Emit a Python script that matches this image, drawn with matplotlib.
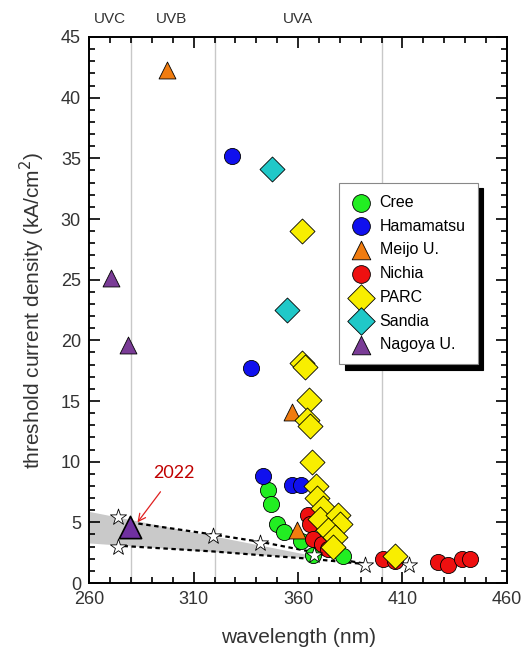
import matplotlib.pyplot as plt
from matplotlib.ticker import MultipleLocator

plt.rcParams['font.family'] = ['Liberation Sans', 'DejaVu Sans']

# data (wavelength nm, threshold kA/cm2)
cree_x = [345.8, 346.9, 350.1, 353.3, 361.3, 367.3, 381.7]
cree_y = [7.7, 6.5, 4.9, 4.2, 3.5, 2.3, 2.2]
hama_x = [328.4, 337.5, 343.1, 357.0, 361.3]
hama_y = [35.2, 17.7, 8.8, 8.1, 8.1]
meijo_x = [297.3, 357.1, 359.5]
meijo_y = [42.3, 14.1, 4.4]
nichia_x = [364.9, 365.7, 367.3, 371.3, 374.5, 400.5, 406.4, 427.1, 431.9, 438.3, 442.3]
nichia_y = [5.6, 4.9, 3.6, 3.2, 2.8, 2.0, 1.8, 1.7, 1.5, 2.0, 2.0]
parc_x = [361.8, 362.0, 363.3, 365.4, 364.2, 365.7, 366.5, 368.6, 369.0, 371.8,
          370.5, 379.3, 380.0, 374.5, 377.7, 376.9, 406.4]
parc_y = [29.0, 18.1, 17.8, 15.1, 13.4, 12.9, 10.0, 8.0, 7.0, 6.2,
          5.3, 5.6, 4.9, 4.4, 3.8, 3.0, 2.2]
sandia_x = [347.4, 354.6]
sandia_y = [34.1, 22.5]
nagoya_x = [270.5, 278.7]
nagoya_y = [25.1, 19.6]
nagoya22_x = [279.6]
nagoya22_y = [4.6]

star_x = [274.0, 274.0, 319.2, 341.8, 367.5, 392.0, 413.3]
star_y = [5.4, 3.0, 3.9, 3.3, 2.3, 1.5, 1.5]

upper_x = [283.5, 319.2, 341.8, 365.7, 383.3, 392.0]
upper_y = [4.9, 4.0, 3.4, 2.6, 1.85, 1.6]
lower_x = [276.4, 319.5, 341.8, 365.7, 389.7]
lower_y = [3.05, 2.6, 2.3, 2.0, 1.6]

band_x = [260, 366]
band_top = [5.9, 2.3]
band_bot = [3.3, 2.05]

region_lines = [280, 320, 400]
region_names = ['UVC', 'UVB', 'UVA']
region_pos = [270, 299.5, 360]

fig = plt.figure(figsize=(5.28, 6.57), dpi=100)
ax = fig.add_axes([0.169, 0.1126, 0.791, 0.8311])

for xv in region_lines:
    ax.axvline(xv, color='#c8c8c8', lw=1.0, zorder=0)

ax.fill_between(band_x, band_bot, band_top, color='#c9c9c9', lw=0, zorder=1)
ax.plot(upper_x, upper_y, color='black', ls=(0, (2, 1.6)), lw=1.6, zorder=2)
ax.plot(lower_x, lower_y, color='black', ls=(0, (2, 1.6)), lw=1.6, zorder=2)

ms = 135
kw = dict(edgecolors='black', linewidths=0.6, zorder=3)
ax.scatter(cree_x, cree_y, s=ms, marker='o', c='#22ee22', label='Cree', **kw)
ax.scatter(hama_x, hama_y, s=ms, marker='o', c='#1010ee', label='Hamamatsu', **kw)
ax.scatter(meijo_x, meijo_y, s=ms * 1.1, marker='^', c='#f07c10', label='Meijo U.', **kw)
ax.scatter(nichia_x, nichia_y, s=ms, marker='o', c='#ee1010', label='Nichia', **kw)
ax.scatter(parc_x, parc_y, s=ms * 1.2, marker='D', c='#f8ee00', label='PARC', **kw)
ax.scatter(sandia_x, sandia_y, s=ms * 1.2, marker='D', c='#20c8c8', label='Sandia', **kw)
ax.scatter(nagoya_x, nagoya_y, s=ms * 1.1, marker='^', c='#7a3c96', label='Nagoya U.', **kw)
ax.scatter(nagoya22_x, nagoya22_y, s=ms * 1.9, marker='^', c='#7030a0',
           edgecolors='black', linewidths=1.2, zorder=5)
ax.scatter(star_x, star_y, s=ms * 1.1, marker='*', c='white',
           edgecolors='black', linewidths=0.6, zorder=4)

ax.annotate('2022', xy=(283.1, 5.0), xytext=(300.8, 9.05),
            ha='center', va='center', color='#c00000', fontsize=13,
            family=['Lato', 'DejaVu Sans'],
            arrowprops=dict(arrowstyle='->', color='#e02020', lw=0.9,
                            shrinkA=7, shrinkB=0),
            zorder=6)

ax.set_xlim(260, 460)
ax.set_ylim(0, 45)
ax.xaxis.set_major_locator(MultipleLocator(50, offset=10))
ax.xaxis.set_minor_locator(MultipleLocator(10))
ax.yaxis.set_major_locator(MultipleLocator(5))
ax.yaxis.set_minor_locator(MultipleLocator(1))
ax.tick_params(which='both', direction='in', top=True, right=True,
               colors='black', labelcolor='#333333', labelsize=13, width=1.2)
ax.tick_params(which='major', length=8, pad=6)
ax.tick_params(which='minor', length=4)
for sp in ax.spines.values():
    sp.set_linewidth(1.4)

ax.set_xlabel('wavelength (nm)', fontsize=15, color='#333333', labelpad=14)
ax.set_ylabel('threshold current density (kA/cm$^2$)', fontsize=15,
              color='#333333', labelpad=10)

for name, xp in zip(region_names, region_pos):
    ax.text(xp, 1.02, name, transform=ax.get_xaxis_transform(),
            ha='center', va='bottom', fontsize=11, color='#333333')

leg = ax.legend(loc='upper left', bbox_to_anchor=(0.598, 0.733), fontsize=11.5,
                frameon=True, fancybox=False, edgecolor='#888888',
                borderpad=0.75, labelspacing=0.55, handletextpad=0.6,
                handlelength=1.2, scatterpoints=1, borderaxespad=0,
                markerscale=1.1,
                shadow={'color': 'black', 'alpha': 1, 'ox': 4, 'oy': -4})
leg.get_frame().set_linewidth(0.8)

fig.savefig('out.png', dpi=100)
